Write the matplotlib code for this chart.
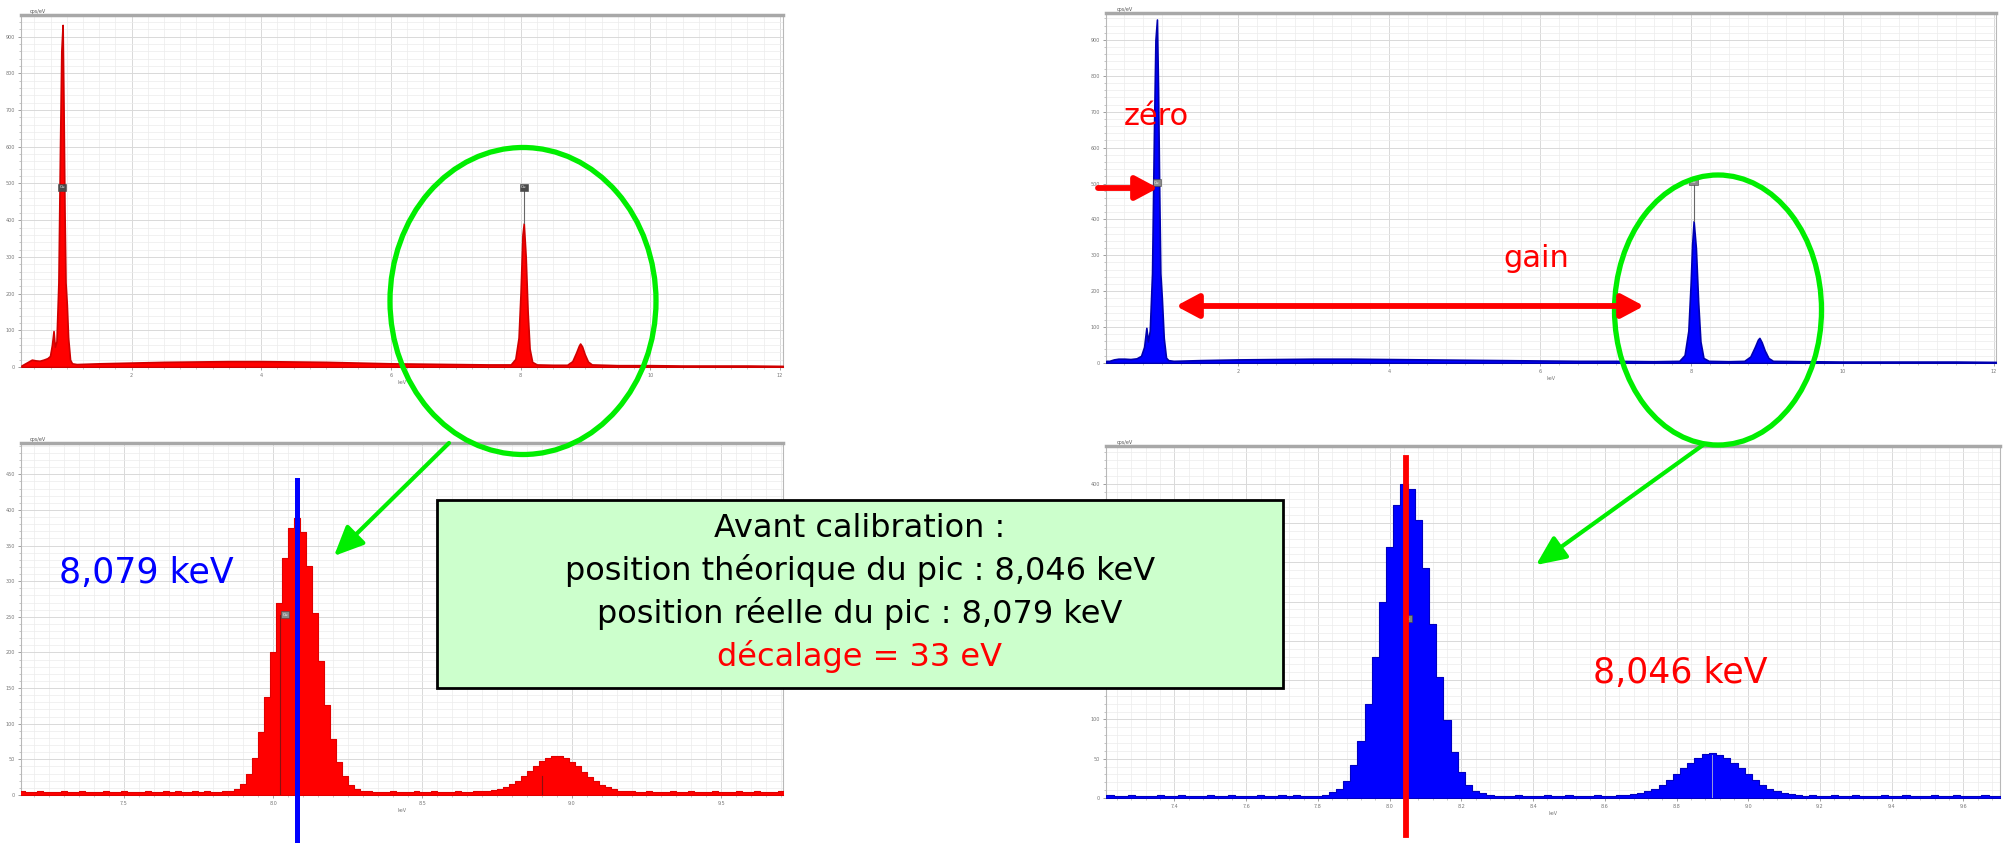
import numpy as np
import matplotlib
matplotlib.use("Agg")
import matplotlib.pyplot as plt
from matplotlib.ticker import MultipleLocator, FormatStrFormatter, FuncFormatter
from matplotlib.patches import Ellipse, Rectangle

plt.rcParams['font.family'] = ['DejaVu Sans']

# ---- full spectra (energy keV, counts) before / after calibration ----
full_before_energy = [0.30, 0.34, 0.40, 0.46, 0.52, 0.58, 0.64, 0.70, 0.74, 0.77, 0.795, 0.815,
                      0.84, 0.87, 0.895, 0.915, 0.935, 0.95, 0.965, 0.98, 1.00, 1.02, 1.05, 1.08,
                      1.15, 1.5, 2.0, 2.5, 3.0, 3.5, 4.0, 4.5, 5.0, 5.5, 6.0, 6.5, 7.0, 7.5, 7.85,
                      7.92, 7.97, 8.00, 8.03, 8.05, 8.08, 8.11, 8.14, 8.18, 8.25, 8.5, 8.72, 8.80,
                      8.86, 8.90, 8.92, 8.95, 8.99, 9.04, 9.10, 9.5, 10.0, 10.5, 11.0, 11.5, 12.05]
full_before_counts = [4, 8, 14, 20, 18, 17, 20, 24, 30, 60, 98, 55,
                      70, 230, 600, 860, 932, 700, 420, 230, 170, 80, 20, 10,
                      8, 10, 12, 14, 15, 16, 16, 15, 14, 12, 10, 9, 8, 7, 7,
                      22, 80, 200, 360, 391, 300, 150, 50, 14, 7, 6, 6, 16,
                      40, 58, 64, 56, 35, 15, 7, 5, 5, 4, 4, 4, 3]

full_after_energy = [0.26, 0.30, 0.36, 0.42, 0.50, 0.58, 0.66, 0.72, 0.76, 0.79, 0.81, 0.835,
                     0.865, 0.89, 0.91, 0.93, 0.945, 0.96, 0.975, 0.995, 1.02, 1.05, 1.08, 1.15,
                     1.5, 2.0, 2.5, 3.0, 3.5, 4.0, 4.5, 5.0, 5.5, 6.0, 6.5, 7.0, 7.5, 7.84,
                     7.91, 7.96, 7.99, 8.01, 8.03, 8.06, 8.09, 8.12, 8.16, 8.23, 8.5, 8.70,
                     8.78, 8.84, 8.88, 8.90, 8.93, 8.97, 9.02, 9.08, 9.5, 10.0, 10.5, 11.0,
                     11.5, 12.03]
full_after_counts = [6, 6, 10, 12, 12, 11, 13, 20, 45, 98, 60, 90,
                     250, 640, 900, 957, 760, 480, 250, 180, 70, 15, 8, 6,
                     8, 10, 11, 12, 12, 11, 10, 9, 8, 7, 6, 6, 5, 6,
                     22, 90, 220, 330, 395, 320, 170, 60, 14, 6, 5, 6,
                     18, 45, 65, 70, 58, 35, 14, 6, 5, 4, 4, 4,
                     4, 3]

# ---- zoom on the Cu K lines, 0.02 keV channels ----
zoom_before_start = 7.14
zoom_before_counts = [4, 5, 4, 4, 5, 4, 4, 4, 5, 4, 4, 5, 4, 4, 4, 5, 4, 4, 5, 4, 4, 4, 5, 4, 4, 5,
                      4, 5, 4, 4, 5, 4, 5,
                      4, 4, 5, 6, 9, 16, 29, 52, 88, 138, 201, 270, 333, 375, 389, 369, 321, 256,
                      188, 127, 79, 46, 26, 14, 8, 6, 5, 4,
                      4, 4, 5, 4, 4, 4, 5, 4, 4, 5, 4, 4, 4, 5, 4, 4, 5,
                      5, 5, 7, 8, 11, 15, 20, 27, 34, 41, 48, 52, 55, 55, 52, 46, 40, 32, 25, 19,
                      14, 11, 8, 6, 5, 5,
                      4, 4, 5, 4, 4, 4, 5, 4, 4, 5, 4, 4, 4, 5, 4, 4, 4, 5, 4, 4, 5, 4, 4, 4, 5,
                      4, 4]
zoom_after_start = 7.20
zoom_after_counts = [3, 4, 3, 3, 4, 3, 3, 3, 4, 3, 3, 4, 3, 3, 3, 4, 3, 3, 4, 3, 3, 3, 4, 3, 3, 4,
                     3, 4, 3, 3,
                     3, 4, 7, 12, 22, 42, 73, 119, 180, 250, 319, 373, 400, 393, 354, 293, 222,
                     154, 99, 59, 33, 17, 9, 6, 4, 3,
                     3, 3, 4, 3, 3, 3, 4, 3, 3, 4, 3, 3, 3, 4, 3, 3, 4,
                     4, 5, 6, 9, 12, 17, 23, 30, 38, 45, 51, 56, 57, 55, 51, 45, 38, 30, 23, 17,
                     12, 9, 6, 5, 4,
                     3, 4, 3, 3, 4, 3, 3, 4, 3, 3, 3, 4, 3, 3, 4, 3, 3, 3, 4, 3, 3, 4, 3, 3, 3,
                     4, 3, 3, 4]
channel_width = 0.02

peak_theoretical = 8.046   # keV, Cu K-alpha
peak_measured = 8.079      # keV, before calibration

RED = '#ff0000'
BLUE = '#0000ff'
GREEN = '#00ee00'

W, H = 2004, 843
fig = plt.figure(figsize=(W / 100, H / 100), dpi=100)
fig.patch.set_facecolor('white')


def px_axes(left, top, right, bottom):
    return fig.add_axes([left / W, 1 - bottom / H, (right - left) / W, (bottom - top) / H])


def style_axes(ax, xlim, ylim, xmaj, xmin, ymaj, ymin, xfmt):
    ax.set_xlim(*xlim)
    ax.set_ylim(*ylim)
    ax.set_facecolor('white')
    ax.xaxis.set_major_locator(MultipleLocator(xmaj))
    ax.xaxis.set_minor_locator(MultipleLocator(xmin))
    ax.yaxis.set_major_locator(MultipleLocator(ymaj))
    ax.yaxis.set_minor_locator(MultipleLocator(ymin))
    ax.xaxis.set_major_formatter(FormatStrFormatter(xfmt))
    ax.grid(which='major', color='#d9d9d9', lw=0.7)
    ax.grid(which='minor', color='#ececec', lw=0.5)
    ax.set_axisbelow(True)
    ax.tick_params(which='major', labelsize=3.5, colors='#777777', length=2.5, width=0.5, pad=2)
    ax.tick_params(which='minor', colors='#999999', length=1.5, width=0.4)
    for side in ('left', 'right', 'bottom'):
        ax.spines[side].set_color('#b8b8b8')
        ax.spines[side].set_linewidth(0.8)
    ax.spines['top'].set_color('#a8a8a8')
    ax.spines['top'].set_linewidth(2.5)
    ax.set_xlabel('keV', fontsize=3.5, color='#777777', labelpad=1)
    ax.text(0.012, 1.004, 'cps/eV', transform=ax.transAxes, fontsize=3.5,
            color='#555555', va='bottom', ha='left')


def peak_tag(ax, x, y, fc, line_to=None, line_color='#666666'):
    ax.text(x, y, 'Cu', fontsize=3, color='white', ha='center', va='center', zorder=6,
            bbox=dict(boxstyle='square,pad=0.35', fc=fc, ec='#444444', lw=0.4))
    if line_to is not None:
        ax.plot([x, x], [line_to, y], color=line_color, lw=0.8, zorder=5)


# top left: full spectrum before calibration
ax_tl = px_axes(21, 15, 783, 367)
style_axes(ax_tl, (0.293, 12.05), (0, 959), 2, 0.25, 100, 20, '%d')
ax_tl.fill_between(full_before_energy, full_before_counts, color=RED, lw=1.2,
                   edgecolor='#d00000', zorder=3)
peak_tag(ax_tl, 0.93, 490, '#4a4a4a')
peak_tag(ax_tl, 8.05, 490, '#4a4a4a', line_to=391)

# top right: full spectrum after calibration
ax_tr = px_axes(1106, 13, 1996, 363)
style_axes(ax_tr, (0.256, 12.03), (0, 975), 2, 0.25, 100, 20, '%d')
ax_tr.fill_between(full_after_energy, full_after_counts, color=BLUE, lw=1.2,
                   edgecolor='#0000b0', zorder=3)
peak_tag(ax_tr, 0.93, 502, '#8a8a8a')
peak_tag(ax_tr, 8.03, 505, '#8a8a8a', line_to=395)

# bottom left: Cu K lines before calibration
ax_bl = px_axes(21, 443, 783, 795)
style_axes(ax_bl, (7.156, 9.707), (0, 494), 0.5, 0.05, 50, 10, '%.1f')
e_bl = zoom_before_start + channel_width * np.arange(len(zoom_before_counts))
ax_bl.fill_between(e_bl, zoom_before_counts, step='mid', color=RED, lw=0.8,
                   edgecolor='#e00000', zorder=3)
ax_bl.plot([8.022, 8.022], [0, 253], color='#8a1010', lw=0.8, zorder=4)
ax_bl.plot([8.90, 8.90], [0, 26], color='#8a1010', lw=0.8, zorder=4)
peak_tag(ax_bl, 8.04, 253, '#8a8a8a')
ax_bl.plot([peak_measured, peak_measured], [0.895, -0.136], color=BLUE, lw=3.6,
           transform=ax_bl.get_xaxis_transform(), clip_on=False, zorder=8)

# bottom right: Cu K lines after calibration
ax_br = px_axes(1106, 446, 2000, 798)
style_axes(ax_br, (7.209, 9.702), (0, 448), 0.2, 0.04, 50, 10, '%.1f')
# the count labels between 150 and 350 sit under the summary box
ax_br.yaxis.set_major_formatter(
    FuncFormatter(lambda v, _: '' if 125 < v < 375 else '%d' % v))
e_br = zoom_after_start + channel_width * np.arange(len(zoom_after_counts))
ax_br.fill_between(e_br, zoom_after_counts, step='mid', color=BLUE, lw=0.8,
                   edgecolor='#0000c0', zorder=3)
ax_br.plot([8.90, 8.90], [0, 55], color='#9a9ad8', lw=0.7, zorder=4)
peak_tag(ax_br, 8.05, 228, '#7a8a7a')
ax_br.plot([peak_theoretical, peak_theoretical], [0.966, -0.105], color=RED, lw=4.2,
           transform=ax_br.get_xaxis_transform(), clip_on=False, zorder=8)

# ---- annotation layer in pixel coordinates ----
ov = fig.add_axes([0, 0, 1, 1], zorder=10)
ov.set_xlim(0, W)
ov.set_ylim(H, 0)
ov.axis('off')
ov.patch.set_alpha(0)

ov.add_patch(Ellipse((523, 301), 266, 307, fill=False, ec=GREEN, lw=3.8))
ov.add_patch(Ellipse((1718, 310), 207, 270, fill=False, ec=GREEN, lw=3.8))

green_arrow = dict(arrowstyle='-|>,head_length=1.0,head_width=0.45', color=GREEN, lw=3,
                   mutation_scale=18, shrinkA=0, shrinkB=0)
ov.annotate('', xy=(334, 556), xytext=(449, 443), arrowprops=green_arrow)
ov.annotate('', xy=(1536, 565), xytext=(1703, 445), arrowprops=green_arrow)

red_arrow = dict(arrowstyle='-|>,head_length=0.75,head_width=0.4', color=RED, lw=4.2,
                 mutation_scale=18, shrinkA=0, shrinkB=0)
ov.annotate('', xy=(1158, 188), xytext=(1098, 188), arrowprops=red_arrow)
red_double = dict(arrowstyle='<|-|>,head_length=0.75,head_width=0.4', color=RED, lw=4.2,
                  mutation_scale=18, shrinkA=0, shrinkB=0)
ov.annotate('', xy=(1644, 306), xytext=(1176, 306), arrowprops=red_double)

ov.text(1156, 125, 'zéro', color=RED, fontsize=22, ha='center', va='baseline')
ov.text(1536, 267, 'gain', color=RED, fontsize=22, ha='center', va='baseline')
ov.text(59, 583, '8,079 keV', color=BLUE, fontsize=25, ha='left', va='baseline')
ov.text(1593, 683, '8,046 keV', color=RED, fontsize=25, ha='left', va='baseline')

ov.add_patch(Rectangle((437, 500), 846, 188, fc='#ccffcc', ec='black', lw=2))
box_lines = [('Avant calibration :', 'black', 537),
             ('position théorique du pic : 8,046 keV', 'black', 580),
             ('position réelle du pic : 8,079 keV', 'black', 623),
             ('décalage = 33 eV', RED, 666)]
for txt, col, yb in box_lines:
    ov.text(860, yb, txt, color=col, fontsize=23, ha='center', va='baseline')

fig.savefig('out.png', dpi=100, facecolor='white')
